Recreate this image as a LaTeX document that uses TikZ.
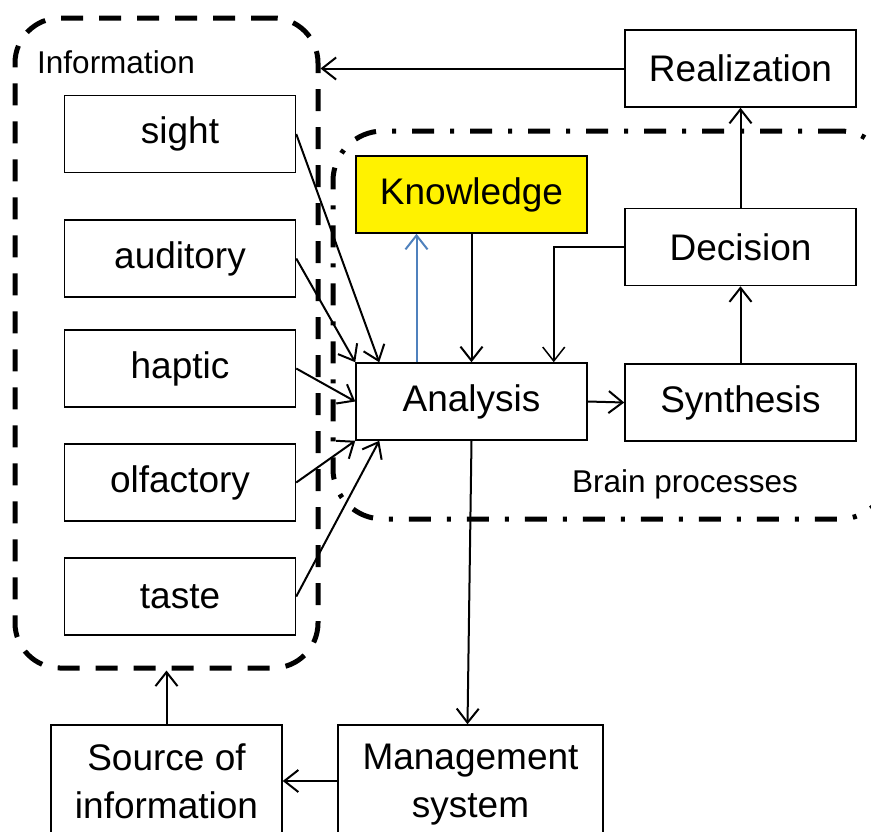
\documentclass[tikz,border=0pt]{standalone}
\usepackage{fontspec}
\setmainfont{Liberation Sans}
\usetikzlibrary{arrows.meta}
\usetikzlibrary{positioning}
\tikzset{>={Straight Barb[length=14pt,width=22pt]}}

\begin{document}
\begin{tikzpicture}[x=1pt,y=-1pt,
	block/.style={draw,line width=1.5pt,minimum width=231pt,minimum height=77pt,inner sep=0pt,font=\fontsize{37}{48}\selectfont},
	group/.style={draw,line width=5pt,inner sep=0pt},
	glabel/.style={font=\fontsize{31.5}{38}\selectfont},
	link/.style={->,line width=2pt}]
	\useasboundingbox (0,0) rectangle (871,831);
	% groups
	\node[group,rounded corners=45pt,dash pattern=on 22pt off 16pt,minimum width=303pt,minimum height=650pt] (info) at (166.5,343) {};
	\node[group,rounded corners=50pt,dash pattern=on 22pt off 16pt on 4pt off 16pt,minimum width=557pt,minimum height=388pt] (brain) at (611.5,325) {};
	\node[glabel] (infolabel) at (116,62) {Information};
	\node[glabel] (brainlabel) at (685,484) {Brain processes};
	% senses
	\node[block] (sight) at (180,134) {sight};
	\node[block] (auditory) at (180,258.5) {auditory};
	\node[block] (haptic) at (180,368.5) {haptic};
	\node[block] (olfactory) at (180,482.5) {olfactory};
	\node[block] (taste) at (180,596.5) {taste};
	% processing
	\node[block] (real) at (740.5,68.5) {Realization};
	\node[block,fill=yellow] (know) at (471.5,194.5) {Knowledge};
	\node[block] (dec) at (740.5,247) {Decision};
	\node[block] (ana) at (471.5,401.5) {Analysis};
	\node[block] (syn) at (740.5,402.5) {Synthesis};
	\node[block,minimum height=112pt,align=center,text depth=0pt] (src) at (166.5,781) {Source of\\information};
	\node[block,minimum width=265pt,minimum height=112pt,align=center,text depth=0pt] (mgmt) at (470.5,781) {Management\\system};
	% connectors
	\draw[link] (sight.east) -- ([xshift=24pt]ana.north west);
	\draw[link] (auditory.east) -- (ana.north west);
	\draw[link] (haptic.east) -- (ana.west);
	\draw[link] (olfactory.east) -- (ana.south west);
	\draw[link] (taste.east) -- ([xshift=24pt]ana.south west);
	\draw[link,color={rgb,255:red,79;green,129;blue,189}] ([xshift=-55pt]ana.north) -- ([xshift=-55pt]know.south);
	\draw[link] (know.south) -- (ana.north);
	\draw[link,line width=1.5pt] (dec.west) -| ([xshift=-34pt]ana.north east);
	\draw[link] (ana.east) -- (syn.west);
	\draw[link] (syn.north) -- (dec.north |- dec.south);
	\draw[link] (dec.north) -- (real.south);
	\draw[link] (real.west) -- (real.west -| info.east);
	\draw[link] (ana.south) -- ([xshift=-3pt]mgmt.north);
	\draw[link] (mgmt.west) -- (src.east);
	\draw[link] (src.north) -- (src.north |- info.south);
\end{tikzpicture}
\end{document}
